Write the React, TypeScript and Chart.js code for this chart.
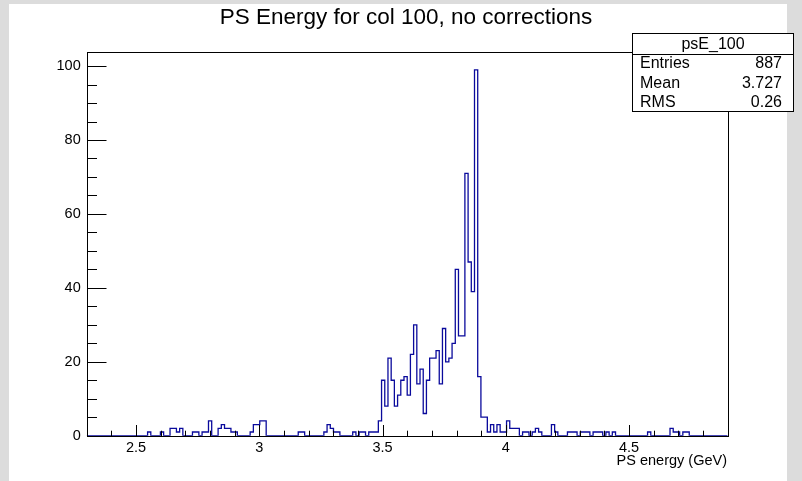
import React, { useEffect, useRef } from 'react';
import { Chart, registerables } from 'chart.js';

Chart.register(...registerables);

// ---- Histogram definition (psE_100) ----
const histMin = 2.3;
const histMax = 4.9;
const nBins = 200;

// bin contents, 200 bins from 2.3 to 4.9 GeV
const counts: number[] = [
  0, 0, 0, 0, 0, 0, 0, 0, 0, 0,
  0, 0, 0, 0, 0, 0, 0, 0, 0, 1,
  0, 0, 0, 1, 0, 0, 2, 2, 1, 2,
  0, 0, 0, 1, 1, 0, 1, 1, 4, 0,
  0, 2, 3, 2, 2, 1, 1, 0, 0, 0,
  0, 1, 3, 3, 4, 4, 0, 0, 0, 0,
  0, 0, 0, 0, 0, 0, 1, 1, 0, 0,
  0, 0, 0, 0, 1, 3, 2, 1, 1, 0,
  0, 0, 0, 1, 0, 1, 1, 0, 1, 1,
  1, 4, 15, 8, 21, 15, 8, 11, 15, 16,
  11, 22, 30, 14, 18, 6, 15, 21, 21, 23,
  14, 29, 20, 21, 25, 45, 27, 27, 71, 47,
  39, 99, 16, 5, 5, 1, 3, 1, 3, 1,
  1, 4, 2, 2, 2, 0, 1, 1, 0, 1,
  2, 1, 0, 0, 0, 3, 1, 0, 0, 0,
  1, 1, 1, 0, 1, 1, 1, 0, 1, 1,
  1, 0, 1, 0, 1, 0, 0, 0, 0, 0,
  0, 0, 0, 0, 0, 1, 0, 0, 0, 0,
  0, 0, 2, 1, 1, 0, 1, 1, 0, 0,
  0, 0, 0, 0, 0, 0, 0, 0, 0, 0,
];

const yAxisMax = 103.95;
const yMajorStep = 20;
const yMinorStep = 5;
const xMajorStep = 0.5;
const xMinorStep = 0.1;

const titleText = 'PS Energy for col 100, no corrections';
const xAxisTitle = 'PS energy (GeV)';
const statsName = 'psE_100';
const statsLabels = ['Entries', 'Mean', 'RMS'];
const statsValues = ['887', '3.727', '0.26'];

const FONT = "'Liberation Sans', Arial, Helvetica, sans-serif";

function fmtTick(v: number): string {
  return String(Number(v.toFixed(3)));
}

const rootDecor = {
  id: 'rootDecor',
  beforeDraw(chart: any) {
    const { ctx, width, height } = chart;
    ctx.save();
    ctx.fillStyle = '#dcdcdc';
    ctx.fillRect(0, 0, width, height);
    ctx.fillStyle = '#ffffff';
    ctx.fillRect(9, 4, 778, height - 4);
    ctx.restore();
  },
  afterDraw(chart: any) {
    const { ctx, chartArea: a, scales } = chart;
    const xs = scales.x;
    const ys = scales.y;
    ctx.save();
    ctx.strokeStyle = '#000';
    ctx.lineWidth = 1;
    const L = Math.round(a.left) + 0.5;
    const R = Math.round(a.right) + 0.5;
    const T = Math.round(a.top) + 0.5;
    const B = Math.round(a.bottom) + 0.5;
    ctx.strokeRect(L, T, R - L, B - T);

    // ticks (ROOT style: inside the frame)
    ctx.beginPath();
    const nY = Math.floor(yAxisMax / yMinorStep);
    for (let k = 0; k <= nY; k++) {
      const v = k * yMinorStep;
      const y = Math.round(ys.getPixelForValue(v)) + 0.5;
      const major = Math.abs(v / yMajorStep - Math.round(v / yMajorStep)) < 1e-6;
      const len = major ? 19 : 9.5;
      ctx.moveTo(L, y);
      ctx.lineTo(L + len, y);
    }
    const kStart = Math.ceil(histMin / xMinorStep - 1e-6);
    const kEnd = Math.floor(histMax / xMinorStep + 1e-6);
    for (let k = kStart; k <= kEnd; k++) {
      const v = k * xMinorStep;
      if (v <= histMin + 1e-6 || v >= histMax - 1e-6) continue;
      const x = Math.round(xs.getPixelForValue(v)) + 0.5;
      const major = Math.abs(v / xMajorStep - Math.round(v / xMajorStep)) < 1e-6;
      const len = major ? 11.5 : 5.8;
      ctx.moveTo(x, B);
      ctx.lineTo(x, B - len);
    }
    ctx.stroke();

    // title
    ctx.fillStyle = '#000';
    ctx.font = `22.5px ${FONT}`;
    ctx.textAlign = 'center';
    ctx.textBaseline = 'middle';
    ctx.fillText(titleText, 406, 18);

    // x axis title
    ctx.font = `14.5px ${FONT}`;
    ctx.textAlign = 'right';
    ctx.textBaseline = 'middle';
    ctx.fillText(xAxisTitle, 727, 461);

    // stats box
    const bx = 632.5, by = 33.5, bw = 161, bh = 78;
    ctx.fillStyle = '#fff';
    ctx.fillRect(bx, by, bw, bh);
    ctx.strokeStyle = '#000';
    ctx.strokeRect(bx, by, bw, bh);
    ctx.beginPath();
    ctx.moveTo(bx, 54.5);
    ctx.lineTo(bx + bw, 54.5);
    ctx.stroke();
    ctx.fillStyle = '#000';
    ctx.font = `16px ${FONT}`;
    ctx.textAlign = 'center';
    ctx.textBaseline = 'middle';
    ctx.fillText(statsName, bx + bw / 2, 44.5);
    const rowY = [64, 83.5, 102.5];
    for (let i = 0; i < statsLabels.length; i++) {
      ctx.textAlign = 'left';
      ctx.fillText(statsLabels[i], 640, rowY[i]);
      ctx.textAlign = 'right';
      ctx.fillText(statsValues[i], 782, rowY[i]);
    }
    ctx.restore();
  },
};

export default function App() {
  const ref = useRef<HTMLCanvasElement | null>(null);

  useEffect(() => {
    document.body.style.margin = '0';
    const canvas = ref.current;
    if (!canvas) return;
    const binW = (histMax - histMin) / nBins;
    const pts: { x: number; y: number }[] = counts.map((c, i) => ({ x: histMin + i * binW, y: c }));
    pts.push({ x: histMax, y: 0 });

    const chart = new Chart(canvas, {
      type: 'line',
      data: {
        datasets: [
          {
            label: statsName,
            data: pts,
            stepped: 'before',
            borderColor: '#0a0a9c',
            borderWidth: 1.3,
            pointRadius: 0,
            fill: false,
            tension: 0,
          },
        ],
      },
      options: {
        animation: false,
        responsive: false,
        devicePixelRatio: 1,
        events: [],
        layout: { padding: { left: 0, top: 51.5, right: 74.3, bottom: 0 } },
        plugins: {
          legend: { display: false },
          title: { display: false },
          tooltip: { enabled: false },
        },
        scales: {
          x: {
            type: 'linear',
            min: histMin,
            max: histMax,
            grid: { display: false, drawTicks: false },
            border: { display: false },
            ticks: {
              stepSize: xMajorStep,
              includeBounds: false,
              padding: 4,
              color: '#000',
              font: { family: FONT, size: 14.5 },
              maxRotation: 0,
              autoSkip: false,
              callback: (v: any) => fmtTick(Number(v)),
            },
            afterFit: (s: any) => {
              s.height = 481 - 435.7;
            },
          },
          y: {
            type: 'linear',
            min: 0,
            max: yAxisMax,
            grid: { display: false, drawTicks: false },
            border: { display: false },
            ticks: {
              stepSize: yMajorStep,
              includeBounds: false,
              padding: 6,
              color: '#000',
              font: { family: FONT, size: 14.5 },
              callback: (v: any) => fmtTick(Number(v)),
            },
            afterFit: (s: any) => {
              s.width = 86.7;
            },
          },
        },
      },
      plugins: [rootDecor],
    });
    return () => chart.destroy();
  }, []);

  return (
    <canvas
      ref={ref}
      width={802}
      height={481}
      style={{ display: 'block', position: 'absolute', left: 0, top: 0, width: 802, height: 481 }}
    />
  );
}
